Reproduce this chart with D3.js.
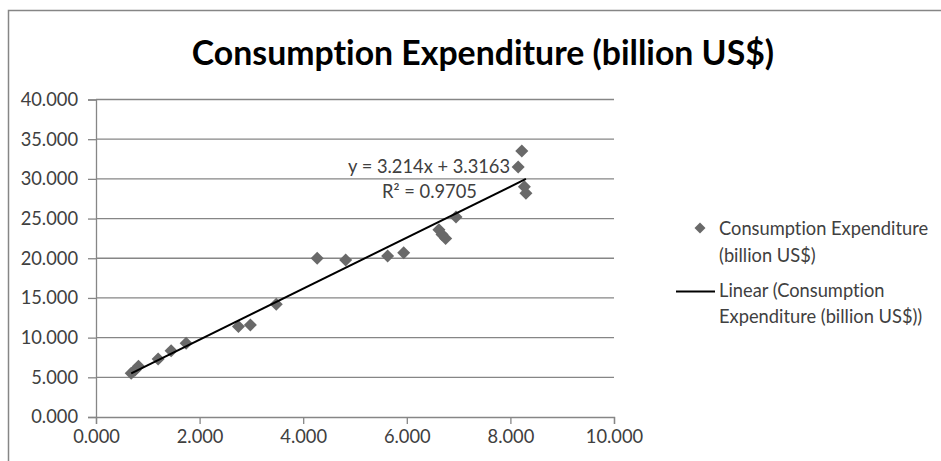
<!DOCTYPE html>
<html>
<head>
<meta charset="utf-8">
<script src="https://cdn.jsdelivr.net/npm/d3@7"></script>
<style>
  html, body { margin: 0; padding: 0; background: #fff; }
  svg { display: block; }
  text { font-variant-ligatures: none; }
</style>
</head>
<body>
<svg id="chart" width="941" height="461"></svg>
<script>
// ---- data ----
const xValues = [0.68, 0.75, 0.82, 1.20, 1.45, 1.74, 2.75, 2.98, 3.48, 4.27, 4.82, 5.63, 5.94, 6.62, 6.68, 6.75, 6.95, 8.15, 8.22, 8.27, 8.30];
const yValues = [5.50, 5.90, 6.40, 7.30, 8.35, 9.28, 11.40, 11.60, 14.20, 20.00, 19.77, 20.28, 20.70, 23.60, 23.00, 22.50, 25.20, 31.50, 33.50, 29.00, 28.20];
const xTicks = [0, 2, 4, 6, 8, 10];
const yTicks = [0, 5, 10, 15, 20, 25, 30, 35, 40];
const trendSlope = 3.214;
const trendIntercept = 3.3163;
const titleText = "Consumption Expenditure (billion US$)";
const equationText = "y = 3.214x + 3.3163";
const r2Text = "R\u00B2 = 0.9705";
const seriesName = ["Consumption Expenditure", "(billion US$)"];
const trendName = ["Linear (Consumption", "Expenditure (billion US$))"];

// ---- drawing ----
const svg = d3.select("#chart");
const FONT = "Lato, 'Open Sans', sans-serif";
const FS = 18.3;
const x = d3.scaleLinear().domain([0, 10]).range([96, 614]);
const y = d3.scaleLinear().domain([0, 40]).range([417, 99.5]);
const axisColor = "#868686";
const textColor = "#404040";
const markColor = "#696969";

// outer chart border
svg.append("rect")
  .attr("x", 8.5).attr("y", 10.5).attr("width", 960).attr("height", 480)
  .attr("fill", "#fff").attr("stroke", axisColor).attr("stroke-width", 1.5);

// title
svg.append("text")
  .attr("x", 483).attr("y", 65)
  .attr("text-anchor", "middle")
  .attr("font-family", FONT).attr("font-weight", "bold")
  .attr("font-size", 33.8).attr("fill", "#000")
  .text(titleText);

// gridlines
svg.append("g").selectAll("line")
  .data(yTicks.filter(d => d > 0))
  .join("line")
  .attr("x1", x(0)).attr("x2", x(10))
  .attr("y1", d => y(d)).attr("y2", d => y(d))
  .attr("stroke", axisColor).attr("stroke-width", 1.3);

// y axis
const yAxis = svg.append("g")
  .attr("transform", `translate(${x(0)},0)`)
  .call(d3.axisLeft(y).tickValues(yTicks).tickSize(8).tickPadding(10).tickFormat(d3.format(".3f")));
yAxis.select(".domain").attr("stroke", axisColor).attr("stroke-width", 1.3);
yAxis.selectAll(".tick line").attr("stroke", axisColor).attr("stroke-width", 1.3);
yAxis.selectAll("text").attr("font-family", FONT).attr("font-size", FS).attr("fill", textColor);

// x axis
const xAxis = svg.append("g")
  .attr("transform", `translate(0,${y(0)})`)
  .call(d3.axisBottom(x).tickValues(xTicks).tickSize(7).tickPadding(6).tickFormat(d3.format(".3f")));
xAxis.select(".domain").attr("stroke", axisColor).attr("stroke-width", 1.3);
xAxis.selectAll(".tick line").attr("stroke", axisColor).attr("stroke-width", 1.3);
xAxis.selectAll("text").attr("font-family", FONT).attr("font-size", FS).attr("fill", textColor);

// points
const pts = xValues.map((v, i) => [v, yValues[i]]);
const diamond = d3.symbol().type(d3.symbolSquare).size(85);
svg.append("g").selectAll("path")
  .data(pts)
  .join("path")
  .attr("d", diamond)
  .attr("transform", d => `translate(${x(d[0])},${y(d[1])}) rotate(45)`)
  .attr("fill", markColor);

// trendline
const xMin = d3.min(xValues), xMax = d3.max(xValues);
svg.append("line")
  .attr("x1", x(xMin)).attr("y1", y(trendSlope * xMin + trendIntercept))
  .attr("x2", x(xMax)).attr("y2", y(trendSlope * xMax + trendIntercept))
  .attr("stroke", "#000").attr("stroke-width", 2);

// equation labels
svg.append("text")
  .attr("x", 348).attr("y", 173)
  .attr("font-family", FONT).attr("font-size", FS).attr("fill", textColor)
  .text(equationText);
svg.append("text")
  .attr("x", 382).attr("y", 198)
  .attr("font-family", FONT).attr("font-size", FS).attr("fill", textColor)
  .text(r2Text);

// legend
const lg = svg.append("g");
lg.append("path")
  .attr("d", d3.symbol().type(d3.symbolSquare).size(60))
  .attr("transform", "translate(700,228) rotate(45)")
  .attr("fill", markColor);
lg.append("text")
  .attr("x", 719).attr("y", 235)
  .attr("font-family", FONT).attr("font-size", FS).attr("fill", textColor)
  .selectAll("tspan").data(seriesName).join("tspan")
  .attr("x", 719).attr("dy", (d, i) => i === 0 ? 0 : 27)
  .text(d => d);
lg.append("line")
  .attr("x1", 676).attr("x2", 715).attr("y1", 291.5).attr("y2", 291.5)
  .attr("stroke", "#000").attr("stroke-width", 2);
lg.append("text")
  .attr("x", 719).attr("y", 297)
  .attr("font-family", FONT).attr("font-size", FS).attr("fill", textColor)
  .selectAll("tspan").data(trendName).join("tspan")
  .attr("x", 719).attr("dy", (d, i) => i === 0 ? 0 : 26)
  .text(d => d);
</script>
</body>
</html>
